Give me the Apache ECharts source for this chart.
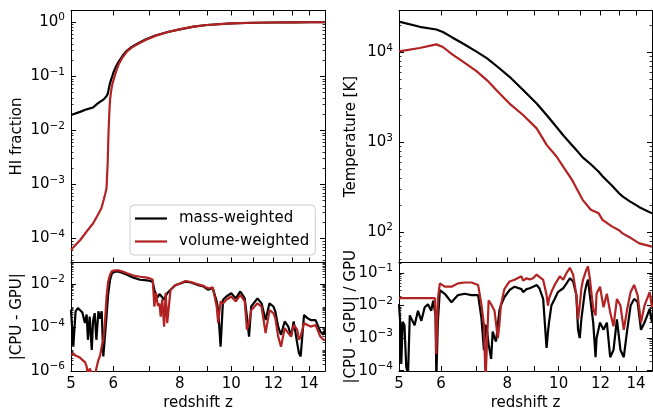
<!DOCTYPE html>
<html>
<head>
<meta charset="utf-8">
<script src="https://cdn.jsdelivr.net/npm/echarts@6/dist/echarts.min.js"></script>
<style>
  html, body { margin: 0; padding: 0; background: #fff; }
  #chart { width: 653px; height: 414px; }
</style>
</head>
<body>
<div id="chart"></div>
<script>
// redshift ticks
const zTicks = [5, 6, 7, 8, 9, 10, 11, 12, 13, 14, 15]
const zLabels = [5, 6, 8, 10, 12, 14]

// HI fraction
const zHI = [5.0, 5.2, 5.35, 5.5, 5.6, 5.7, 5.76, 5.8, 5.83, 5.86,
  5.88, 5.9, 5.92, 5.95, 5.98, 6.02, 6.08, 6.15, 6.25, 6.37,
  6.5, 6.66, 6.9, 7.2, 7.6, 8.0, 8.5, 9.0, 10.0, 11.0,
  12.0, 13.0, 14.0, 15.0]
const hiMass = [0.0193, 0.022, 0.0245, 0.0265, 0.031, 0.035, 0.0375, 0.040, 0.043, 0.047,
  0.055, 0.065, 0.075, 0.088, 0.102, 0.125, 0.155, 0.19, 0.24, 0.30,
  0.35, 0.40, 0.48, 0.57, 0.66, 0.74, 0.83, 0.89, 0.95, 0.98,
  0.99, 0.995, 1.0, 1.0]
const hiVolume = [6.2e-5, 9.3e-5, 1.35e-4, 1.9e-4, 2.6e-4, 3.6e-4, 5.2e-4, 6.8e-4, 8.5e-4, 2.5e-3,
  9e-3, 0.02, 0.037, 0.055, 0.072, 0.09, 0.125, 0.17, 0.225, 0.29,
  0.34, 0.39, 0.47, 0.56, 0.66, 0.74, 0.83, 0.89, 0.95, 0.98,
  0.99, 0.995, 1.0, 1.0]

// temperature [K]
const zTemp = [5.0, 5.47, 5.88, 6.05, 6.3, 6.6, 7.0, 7.33, 7.7, 8.08,
  8.58, 9.09, 9.5, 9.9, 10.2, 10.6, 10.8, 11.1, 11.5, 11.9,
  12.1, 12.6, 13.0, 13.2, 13.6, 14.0, 14.2, 15.0]
const tempMass = [22000, 19300, 18000, 16900, 14700, 12600, 10200, 8600, 6800, 5360,
  3800, 2710, 2000, 1490, 1200, 930, 820, 680, 570, 470,
  420, 330, 271, 250, 222, 200, 190, 162]
const tempVolume = [10300, 11200, 12300, 11500, 9500, 7900, 6200, 4900, 3600, 2700,
  2000, 1430, 930, 700, 537, 382, 310, 229, 178, 162,
  137, 116, 105, 97, 88, 79, 75, 69]

// |CPU - GPU|
const zAbs = [5.00, 5.05, 5.10, 5.15, 5.20, 5.25, 5.31, 5.35, 5.38, 5.42,
  5.47, 5.50, 5.54, 5.58, 5.63, 5.67, 5.71, 5.75, 5.79, 5.83,
  5.87, 5.92, 5.97, 6.05, 6.15, 6.25, 6.37, 6.55, 6.74, 6.94,
  7.05, 7.12, 7.17, 7.22, 7.28, 7.33, 7.37, 7.42, 7.48, 7.53,
  7.58, 7.69, 7.85, 8.04, 8.20, 8.40, 8.63, 8.87, 9.05, 9.23,
  9.39, 9.45, 9.55, 9.65, 9.79, 10.0, 10.2, 10.4, 10.6, 10.7,
  10.8, 10.9, 11.2, 11.4, 11.6, 11.8, 12.0, 12.1, 12.25, 12.4,
  12.6, 12.8, 12.95, 13.1, 13.3, 13.4, 13.5, 13.7, 13.9, 14.1,
  14.4, 14.7, 14.9, 15.0]
const absMass = [6.6e-4, 1.3e-5, 5.6e-4, 7.8e-4, 6.3e-4, 5.0e-4, 1.6e-4, 4.0e-4, 2.7e-5, 3.2e-4,
  9.3e-6, 2.0e-4, 4.6e-4, 2.7e-5, 5.6e-4, 2.5e-4, 5.6e-4, 4.6e-6, 4.0e-6, 3.2e-4,
  3.2e-3, 1.6e-2, 3.2e-2, 3.8e-2, 3.8e-2, 3.3e-2, 2.7e-2, 2.0e-2, 1.6e-2, 1.5e-2,
  1.4e-2, 1.26e-2, 5.5e-3, 3.2e-3, 2.5e-3, 3.5e-3, 4.0e-3, 2.5e-3, 1.9e-3, 2.8e-3,
  3.8e-3, 5.5e-3, 8.9e-3, 1.1e-2, 1.3e-2, 1.2e-2, 9.3e-3, 7.8e-3, 5.5e-3, 6.6e-3,
  1.6e-3, 6.3e-4, 1.3e-5, 1.9e-3, 2.7e-3, 3.8e-3, 2.2e-3, 4.6e-3, 2.2e-3, 3.2e-4,
  3.8e-5, 9.3e-4, 2.2e-3, 1.3e-3, 2.2e-4, 1.3e-3, 9.3e-4, 5.5e-4, 1.1e-4, 4.6e-5,
  1.9e-4, 1.1e-4, 3.8e-5, 1.9e-4, 1.9e-5, 6.6e-6, 4.6e-6, 3.8e-4, 2.7e-4, 2.2e-4,
  2.2e-4, 6.6e-5, 4.6e-5, 7.9e-5]
const absVolume = [5.5e-6, 6.3e-6, 5.0e-6, 4.6e-6, 4.0e-6, 3.2e-6, 2.5e-6, 1.6e-6, 5.0e-7, 1.3e-6,
  7.9e-7, 4.0e-7, 5.0e-7, 1.3e-6, 3.2e-6, 5.0e-6, 1.3e-5, 2.7e-5, 1.6e-4, 2.5e-3,
  1.26e-2, 2.8e-2, 4.0e-2, 4.3e-2, 4.3e-2, 3.8e-2, 3.2e-2, 2.5e-2, 2.2e-2, 2.0e-2,
  1.8e-2, 1.6e-2, 9.3e-4, 4.0e-3, 1.0e-3, 1.26e-3, 3.2e-4, 2.0e-3, 1.1e-4, 4.0e-3,
  1.6e-4, 5.5e-3, 8.9e-3, 1.1e-2, 1.4e-2, 1.26e-2, 1.0e-2, 8.3e-3, 6.3e-3, 7.1e-3,
  9.3e-4, 1.6e-4, 1.6e-3, 1.26e-3, 1.9e-3, 2.7e-3, 1.6e-3, 3.2e-3, 1.6e-3, 7.9e-5,
  1.6e-4, 6.3e-4, 1.3e-3, 9.3e-4, 5.5e-5, 6.3e-4, 4.6e-4, 2.7e-4, 3.8e-5, 1.3e-5,
  9.3e-5, 5.5e-5, 3.8e-5, 1.3e-4, 7.9e-5, 2.7e-5, 3.8e-5, 1.6e-4, 1.3e-4, 1.1e-4,
  1.3e-4, 3.8e-5, 2.7e-5, 2.7e-5]

// |CPU - GPU| / GPU
const zRel = [5.00, 5.03, 5.05, 5.08, 5.12, 5.16, 5.20, 5.24, 5.28, 5.35,
  5.43, 5.51, 5.59, 5.67, 5.75, 5.80, 5.84, 5.86, 5.88, 5.92,
  5.97, 6.10, 6.28, 6.46, 6.65, 6.85, 7.05, 7.15, 7.23, 7.28,
  7.33, 7.38, 7.46, 7.51, 7.57, 7.62, 7.68, 7.73, 7.78, 7.90,
  8.08, 8.26, 8.33, 8.51, 8.57, 8.70, 8.82, 8.95, 9.09, 9.20,
  9.35, 9.49, 9.55, 9.59, 9.69, 9.83, 9.97, 10.05, 10.20, 10.35,
  10.50, 10.65, 10.80, 10.88, 10.96, 11.04, 11.12, 11.20, 11.28, 11.36,
  11.45, 11.62, 11.74, 11.79, 11.97, 12.15, 12.33, 12.51, 12.69, 12.88,
  13.08, 13.27, 13.47, 13.67, 13.88, 14.09, 14.30, 14.52, 14.85, 15.0]
const relMass = [1.1e-2, 2.5e-3, 1.6e-4, 3.2e-3, 2.5e-3, 1.3e-4, 7.9e-5, 5.0e-3, 5.5e-3, 2.5e-3,
  6.9e-3, 3.4e-3, 8.9e-3, 1.1e-2, 6.9e-3, 1.4e-2, 1.45e-2, 5.0e-3, 6.3e-5, 3.2e-3,
  3.0e-2, 2.3e-2, 1.26e-2, 2.1e-2, 2.3e-2, 2.1e-2, 2.1e-2, 4.3e-3, 4.3e-4, 2.6e-3,
  1.6e-3, 6.3e-4, 2.3e-4, 1.6e-3, 1.0e-3, 7.9e-4, 2.5e-3, 6.9e-3, 1.0e-2, 1.8e-2,
  3.0e-2, 3.8e-2, 3.8e-2, 3.2e-2, 2.6e-2, 3.2e-2, 3.4e-2, 3.8e-2, 4.3e-2, 3.4e-2,
  1.6e-2, 5.0e-4, 1.6e-3, 3.0e-3, 1.0e-2, 1.6e-2, 2.6e-2, 2.8e-2, 3.4e-2, 4.8e-2,
  6.9e-2, 5.5e-2, 2.1e-2, 1.8e-3, 1.0e-3, 4.0e-3, 1.0e-2, 2.5e-2, 4.3e-2, 6.3e-2,
  6.2e-2, 3.0e-3, 2.6e-4, 1.0e-3, 3.0e-3, 1.8e-3, 3.0e-3, 2.6e-4, 4.3e-4, 3.8e-3,
  4.3e-4, 2.6e-4, 1.8e-3, 1.0e-2, 1.6e-2, 1.3e-2, 1.8e-3, 3.0e-3, 7.9e-3, 3.0e-3]
const relVolume = [1.7e-2, 1.7e-2, 1.7e-2, 1.7e-2, 1.7e-2, 1.7e-2, 1.7e-2, 1.7e-2, 1.7e-2, 1.7e-2,
  1.7e-2, 1.7e-2, 1.7e-2, 1.7e-2, 1.7e-2, 1.7e-2, 1.7e-2, 5.0e-3, 3.2e-4, 1.6e-2,
  4.8e-2, 3.8e-2, 3.8e-2, 4.8e-2, 5.1e-2, 5.1e-2, 4.3e-2, 1.1e-2, 2.6e-3, 5.0e-5,
  5.0e-5, 1.45e-2, 1.1e-2, 1.1e-2, 6.9e-3, 7.9e-3, 1.0e-3, 2.5e-3, 1.0e-2, 3.2e-2,
  5.5e-2, 6.2e-2, 6.9e-2, 7.9e-2, 5.8e-2, 6.9e-2, 6.3e-2, 6.9e-2, 8.9e-2, 7.6e-2,
  6.2e-2, 2.1e-2, 1.0e-2, 1.6e-2, 2.6e-2, 4.3e-2, 6.3e-2, 7.9e-2, 6.2e-2, 0.1,
  0.145, 8.9e-2, 2.1e-2, 3.8e-3, 1.0e-2, 3.4e-2, 6.3e-2, 8.9e-2, 0.126, 0.16,
  6.9e-2, 7.9e-3, 5.0e-3, 2.3e-2, 3.8e-2, 8.9e-3, 2.3e-2, 6.2e-3, 2.3e-3, 1.6e-2,
  1.0e-2, 1.8e-3, 7.9e-3, 2.6e-2, 4.3e-2, 2.1e-2, 3.0e-3, 1.0e-2, 2.6e-2, 8.9e-3]

// y ranges and major ticks
const hiTicks = [1e-4, 1e-3, 1e-2, 1e-1, 1]
const tempTicks = [1e2, 1e3, 1e4]
const absTicks = [1e-6, 1e-4, 1e-2]
const relTicks = [1e-4, 1e-3, 1e-2, 1e-1]

const FONT = 'DejaVu Sans'
const BLACK = '#000000'
const RED = '#b22222'
const NAMES = ['mass-weighted', 'volume-weighted']

const lineSt = { color: '#000', width: 1 }

function powLabel (v) {
  const e = Math.round(Math.log10(v))
  return '{b|10}{s|' + (e < 0 ? '\u2212' + (-e) : e) + '}'
}

function minorTicks (min, max) {
  const out = []
  for (let e = Math.floor(Math.log10(min)); e <= Math.ceil(Math.log10(max)); e++) {
    for (let k = 2; k <= 9; k++) {
      const v = k * Math.pow(10, e)
      if (v > min && v < max) out.push(v)
    }
  }
  return out
}

function xAxes (g, bottomPanel) {
  const base = {
    type: 'log', gridIndex: g, min: 5, max: 15,
    splitLine: { show: false },
    axisLine: { show: true, onZero: false, lineStyle: lineSt }
  }
  return [
    Object.assign({}, base, {
      position: 'bottom',
      name: bottomPanel ? 'redshift z' : '',
      nameLocation: 'middle',
      nameGap: 25,
      nameMoveOverlap: false,
      nameTextStyle: { fontFamily: FONT, fontSize: 15, color: '#000' },
      axisTick: { show: true, inside: true, length: 5, customValues: zTicks, lineStyle: lineSt },
      axisLabel: {
        show: bottomPanel, customValues: zLabels, margin: 6,
        fontFamily: FONT, fontSize: 15, color: '#000',
        formatter: (v) => String(Math.round(v))
      }
    }),
    Object.assign({}, base, {
      position: 'top',
      axisTick: { show: !bottomPanel, inside: true, length: 5, customValues: zTicks, lineStyle: lineSt },
      axisLabel: { show: false }
    })
  ]
}

function yAxes (g, min, max, major, name, gap) {
  const minor = minorTicks(min, max)
  const base = {
    type: 'log', logBase: 10, gridIndex: g, min: min, max: max,
    splitLine: { show: false },
    axisLine: { show: true, onZero: false, lineStyle: lineSt }
  }
  return [
    Object.assign({}, base, {
      position: 'left',
      name: name,
      nameLocation: 'middle',
      nameGap: gap,
      nameMoveOverlap: false,
      nameTextStyle: { fontFamily: FONT, fontSize: 15, color: '#000' },
      axisTick: { inside: true, length: 5, customValues: major, lineStyle: lineSt },
      axisLabel: {
        customValues: major, margin: 6, formatter: powLabel,
        fontFamily: FONT, color: '#000',
        rich: {
          b: { fontFamily: FONT, fontSize: 15, lineHeight: 20, color: '#000' },
          s: { fontFamily: FONT, fontSize: 10.5, lineHeight: 10, verticalAlign: 'top', color: '#000' }
        }
      }
    }),
    Object.assign({}, base, {
      position: 'left',
      axisTick: { inside: true, length: 2.5, customValues: minor, lineStyle: { color: '#000', width: 0.8 } },
      axisLabel: { show: false }
    }),
    Object.assign({}, base, {
      position: 'right',
      axisTick: { inside: true, length: 5, customValues: major, lineStyle: lineSt },
      axisLabel: { show: false }
    }),
    Object.assign({}, base, {
      position: 'right',
      axisTick: { inside: true, length: 2.5, customValues: minor, lineStyle: { color: '#000', width: 0.8 } },
      axisLabel: { show: false }
    })
  ]
}

function line (name, g, zs, vs, color) {
  return {
    type: 'line',
    name: name,
    xAxisIndex: g * 2,
    yAxisIndex: g * 4,
    data: zs.map((z, i) => [z, vs[i]]),
    showSymbol: false,
    symbol: 'none',
    clip: true,
    lineStyle: { color: color, width: 2.2 },
    itemStyle: { color: color },
    emphasis: { disabled: true }
  }
}

const chart = echarts.init(document.getElementById('chart'))

const option = {
  animation: false,
  backgroundColor: '#fff',
  grid: [
    { left: 71, top: 10.5, width: 254, height: 252, outerBoundsMode: 'none' },
    { left: 71, top: 262.5, width: 254, height: 108.5, outerBoundsMode: 'none' },
    { left: 399, top: 10.5, width: 253, height: 252, outerBoundsMode: 'none' },
    { left: 399, top: 262.5, width: 253, height: 108.5, outerBoundsMode: 'none' }
  ],
  xAxis: [].concat(
    xAxes(0, false),
    xAxes(1, true),
    xAxes(2, false),
    xAxes(3, true)
  ),
  yAxis: [].concat(
    yAxes(0, 3.6e-5, 1.65, hiTicks, 'HI fraction', 46),
    yAxes(1, 0.98e-6, 0.1, absTicks, '|CPU - GPU|', 46),
    yAxes(2, 46, 2.93e4, tempTicks, 'Temperature [K]', 40),
    yAxes(3, 0.98e-4, 0.21, relTicks, '|CPU - GPU| / GPU', 40)
  ),
  legend: {
    data: NAMES,
    left: 130,
    top: 205,
    orient: 'vertical',
    icon: 'rect',
    itemWidth: 32,
    itemHeight: 2.2,
    itemGap: 8,
    padding: [6, 6, 6, 5],
    borderColor: '#cccccc',
    borderWidth: 1,
    borderRadius: 4,
    backgroundColor: 'rgba(255,255,255,0.8)',
    selectedMode: false,
    textStyle: { fontFamily: FONT, fontSize: 15, color: '#000', padding: [0, 0, 0, 7] }
  },
  series: [
    line(NAMES[0], 0, zHI, hiMass, BLACK),
    line(NAMES[1], 0, zHI, hiVolume, RED),
    line(NAMES[0], 1, zAbs, absMass, BLACK),
    line(NAMES[1], 1, zAbs, absVolume, RED),
    line(NAMES[0], 2, zTemp, tempMass, BLACK),
    line(NAMES[1], 2, zTemp, tempVolume, RED),
    line(NAMES[0], 3, zRel, relMass, BLACK),
    line(NAMES[1], 3, zRel, relVolume, RED)
  ]
}

chart.setOption(option)
</script>
</body>
</html>
